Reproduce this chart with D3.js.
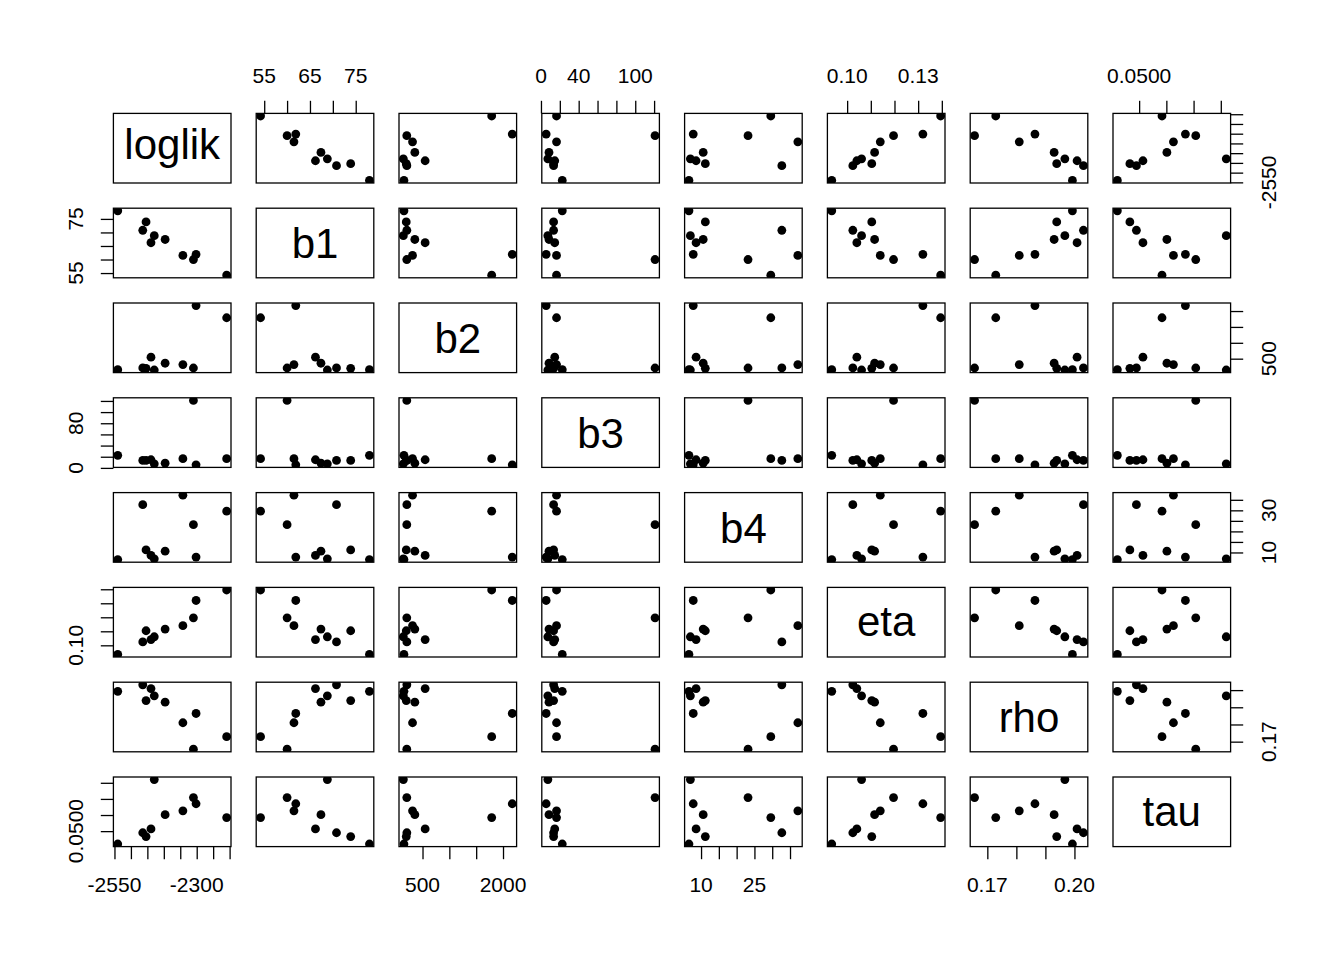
<!DOCTYPE html>
<html>
<head>
<meta charset="utf-8">
<script src="https://cdn.jsdelivr.net/npm/d3@7"></script>
<style>
  body { margin: 0; background: #fff; }
  svg { display: block; }
</style>
</head>
<body>
<svg id="chart"></svg>
<script>
// variables, in matrix order
const varNames = ["loglik", "b1", "b2", "b3", "b4", "eta", "rho", "tau"];

const loglik = [-2540, -2464, -2454, -2439, -2429, -2396, -2342, -2310, -2302, -2209];
const b1     = [78.0, 70.8, 73.9, 66.2, 68.8, 67.4, 61.5, 60.0, 61.9, 54.2];
const b2     = [154, 208, 197, 549, 143, 357, 314, 207, 2172, 1789];
const b3     = [22.6, 13.4, 13.4, 14.6, 7.3, 8.5, 16.5, 121, 5.5, 16.5];
const b4     = [6.6, 32.7, 11.2, 8.6, 7.0, 10.6, 37.2, 23.2, 7.8, 29.6];
const eta    = [0.0935, 0.1024, 0.1104, 0.1041, 0.1061, 0.1116, 0.1140, 0.1196, 0.1320, 0.1395];
const rho    = [0.1993, 0.2031, 0.1939, 0.2009, 0.1967, 0.1930, 0.1810, 0.1656, 0.1864, 0.1729];
const tau    = [0.04960, 0.04995, 0.04983, 0.05007, 0.05160, 0.05051, 0.05063, 0.05104, 0.05085, 0.05042];

// tick positions of each variable's axis
const loglikTicks = [-2550, -2500, -2450, -2400, -2350, -2300, -2250, -2200];
const b1Ticks     = [55, 60, 65, 70, 75];
const b2Ticks     = [500, 1000, 1500, 2000];
const b3Ticks     = [0, 20, 40, 60, 80, 100, 120];
const b4Ticks     = [10, 15, 20, 25, 30, 35];
const etaTicks    = [0.10, 0.11, 0.12, 0.13, 0.14];
const rhoTicks    = [0.17, 0.18, 0.19, 0.20];
const tauTicks    = [0.0500, 0.0505, 0.0510, 0.0515];

// labels that are printed (horizontal axis: top/bottom, vertical axis: left/right)
const loglikHLabels = ["-2550", "-2300"], loglikVLabels = ["-2550"];
const b1HLabels     = ["55", "65", "75"],  b1VLabels     = ["55", "75"];
const b2HLabels     = ["500", "2000"],     b2VLabels     = ["500"];
const b3HLabels     = ["0", "40", "100"],  b3VLabels     = ["0", "80"];
const b4HLabels     = ["10", "25"],        b4VLabels     = ["10", "30"];
const etaHLabels    = ["0.10", "0.13"],    etaVLabels    = ["0.10"];
const rhoHLabels    = ["0.17", "0.20"],    rhoVLabels    = ["0.17"];
const tauHLabels    = ["0.0500"],          tauVLabels    = ["0.0500"];

const columns = [loglik, b1, b2, b3, b4, eta, rho, tau];
const ticks   = [loglikTicks, b1Ticks, b2Ticks, b3Ticks, b4Ticks, etaTicks, rhoTicks, tauTicks];
const hLabels = [loglikHLabels, b1HLabels, b2HLabels, b3HLabels, b4HLabels, etaHLabels, rhoHLabels, tauHLabels];
const vLabels = [loglikVLabels, b1VLabels, b2VLabels, b3VLabels, b4VLabels, etaVLabels, rhoVLabels, tauVLabels];

// layout (R pairs: oma 4 lines, gap 1 line)
const width = 1344, height = 960;
const lineH = 25.2;
const oma = 4 * lineH;
const n = varNames.length;
const figW = (width - 2 * oma) / n, figH = (height - 2 * oma) / n;
const pw = figW - lineH, ph = figH - lineH;
const font = "'Liberation Sans', Arial, Helvetica, sans-serif";
const axisFont = 21, labelFont = 42;
const lw = 1.3;

const svg = d3.select("#chart").attr("width", width).attr("height", height);
svg.append("rect").attr("width", width).attr("height", height).attr("fill", "white");

// scales with R's 4% padding
const xScales = columns.map(v => {
  const [lo, hi] = d3.extent(v), pad = (hi - lo) * 0.04;
  return d3.scaleLinear().domain([lo - pad, hi + pad]).range([0, pw]);
});
const yScales = columns.map(v => {
  const [lo, hi] = d3.extent(v), pad = (hi - lo) * 0.04;
  return d3.scaleLinear().domain([lo - pad, hi + pad]).range([ph, 0]);
});

const measure = document.createElement("canvas").getContext("2d");
const defs = svg.append("defs");

for (let i = 0; i < n; i++) {
  for (let j = 0; j < n; j++) {
    const px = oma + j * figW + lineH / 2;
    const py = oma + i * figH + lineH / 2;
    const g = svg.append("g").attr("transform", `translate(${px},${py})`);

    // axes on the outer edge, alternating like pairs()
    if (i === 0 && j % 2 === 1) drawAxis(g, "top", j);
    if (i === n - 1 && j % 2 === 0) drawAxis(g, "bottom", j);
    if (j === 0 && i % 2 === 1) drawAxis(g, "left", i);
    if (j === n - 1 && i % 2 === 0) drawAxis(g, "right", i);

    if (i === j) {
      const label = varNames[i];
      measure.font = `${labelFont}px ${font}`;
      const m = measure.measureText(label);
      const asc = m.actualBoundingBoxAscent, desc = m.actualBoundingBoxDescent;
      g.append("text")
        .attr("x", pw / 2)
        .attr("y", ph / 2 + (asc - desc) / 2)
        .attr("text-anchor", "middle")
        .attr("font-family", font)
        .attr("font-size", labelFont)
        .attr("fill", "black")
        .text(label);
    } else {
      const clipId = `clip-${i}-${j}`;
      defs.append("clipPath").attr("id", clipId)
        .append("rect").attr("width", pw).attr("height", ph);
      const xs = xScales[j], ys = yScales[i];
      const pts = d3.range(columns[0].length).map(k => ({ x: columns[j][k], y: columns[i][k] }));
      g.append("g").attr("clip-path", `url(#${clipId})`)
        .selectAll("circle")
        .data(pts)
        .join("circle")
          .attr("cx", d => xs(d.x))
          .attr("cy", d => ys(d.y))
          .attr("r", 4.4)
          .attr("fill", "black");
    }

    g.append("rect")
      .attr("width", pw)
      .attr("height", ph)
      .attr("fill", "none")
      .attr("stroke", "black")
      .attr("stroke-width", lw);
  }
}

function drawAxis(g, side, v) {
  const tickLen = lineH / 2;
  let axis, scale;
  if (side === "top")    { scale = xScales[v]; axis = d3.axisTop(scale); }
  if (side === "bottom") { scale = xScales[v]; axis = d3.axisBottom(scale); }
  if (side === "left")   { scale = yScales[v]; axis = d3.axisLeft(scale); }
  if (side === "right")  { scale = yScales[v]; axis = d3.axisRight(scale); }
  axis.tickValues(ticks[v]).tickSize(tickLen).tickFormat("");

  const ag = g.append("g");
  if (side === "bottom") ag.attr("transform", `translate(0,${ph})`);
  if (side === "right")  ag.attr("transform", `translate(${pw},0)`);
  ag.call(axis);
  ag.select(".domain").remove();
  ag.selectAll(".tick line").attr("stroke", "black").attr("stroke-width", lw);

  const horiz = side === "top" || side === "bottom";
  const labels = horiz ? hLabels[v] : vLabels[v];
  labels.forEach(lab => {
    const pos = scale(+lab);
    let tx, ty;
    if (side === "top")    { tx = pos; ty = -1.2 * lineH; }
    if (side === "bottom") { tx = pos; ty = ph + 1.8 * lineH; }
    if (side === "left")   { tx = -1.2 * lineH; ty = pos; }
    if (side === "right")  { tx = pw + 1.8 * lineH; ty = pos; }
    g.append("text")
      .attr("transform", horiz ? `translate(${tx},${ty})` : `translate(${tx},${ty}) rotate(-90)`)
      .attr("text-anchor", "middle")
      .attr("font-family", font)
      .attr("font-size", axisFont)
      .attr("fill", "black")
      .text(lab);
  });
}
</script>
</body>
</html>
